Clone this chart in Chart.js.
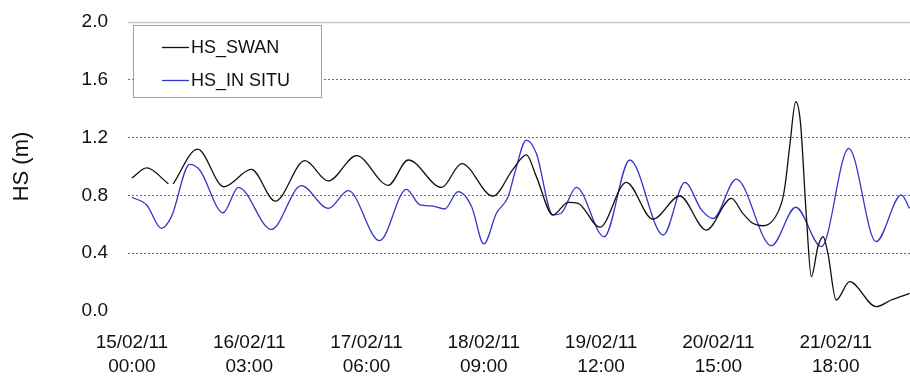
<!DOCTYPE html>
<html>
<head>
<meta charset="utf-8">
<script src="https://cdn.jsdelivr.net/npm/chart.js@4.4.1/dist/chart.umd.min.js"></script>
<style>
html,body{margin:0;padding:0;background:#ffffff;}
#wrap{width:910px;height:376px;position:relative;}
</style>
</head>
<body>
<div id="wrap"><canvas id="c" width="910" height="376"></canvas></div>
<script>
// ---- data (hours since 15/02/11 00:00) ----
const seriesNames = ["HS_SWAN", "HS_IN SITU"];

const swanHours = [0, 3.4, 8.4, 9, 9.5, 15.1, 21.2, 27.5, 33, 39.8, 45.2, 51.7, 59, 63.6, 71.3, 75.9, 83.1, 87.7, 90.8, 93.1, 96.9, 100.4, 102.7, 107.7, 113.8, 119.9, 126.1, 132.2, 138, 140.6, 142.9, 145.3, 149.5, 150.3, 151.4, 152.8, 153.9, 155.2, 156.4, 157.9, 159.1, 160.2, 162.1, 165.2, 171.3, 174.8, 179];
const swanValues = [0.92, 0.99, 0.88, null, 0.88, 1.12, 0.86, 0.98, 0.76, 1.04, 0.90, 1.075, 0.87, 1.045, 0.855, 1.02, 0.795, 0.98, 1.08, 0.93, 0.665, 0.752, 0.745, 0.58, 0.89, 0.635, 0.796, 0.56, 0.78, 0.676, 0.607, 0.59, 0.745, 0.86, 1.137, 1.448, 1.30, 0.676, 0.237, 0.445, 0.514, 0.40, 0.076, 0.203, 0.03, 0.076, 0.122];

const situHours = [0, 3.4, 6.8, 9.1, 13.3, 15.6, 21, 24.5, 32.1, 39, 45.2, 49.8, 57, 63.2, 66.3, 69, 72, 75.1, 78.2, 81, 83.9, 86.6, 88.1, 90.8, 93.1, 96.9, 98.8, 102.3, 108.7, 114.6, 122.3, 127.3, 131.1, 133.8, 139.1, 147.2, 152.8, 158.7, 165, 171.3, 177.1, 179];
const situValues = [0.787, 0.734, 0.572, 0.653, 1.015, 0.976, 0.68, 0.856, 0.565, 0.867, 0.71, 0.833, 0.487, 0.842, 0.734, 0.727, 0.706, 0.826, 0.722, 0.464, 0.676, 0.79, 0.953, 1.183, 1.09, 0.664, 0.676, 0.856, 0.514, 1.045, 0.526, 0.89, 0.70, 0.64, 0.913, 0.452, 0.718, 0.445, 1.126, 0.48, 0.803, 0.71];

const tickHours = [0, 27, 54, 81, 108, 135, 162];
const tickLabels = [["15/02/11","00:00"],["16/02/11","03:00"],["17/02/11","06:00"],["18/02/11","09:00"],["19/02/11","12:00"],["20/02/11","15:00"],["21/02/11","18:00"]];
const yTicks = [0, 0.4, 0.8, 1.2, 1.6, 2.0];
const yTitle = "HS (m)";

// ---- styles ----
const FONT = "'Liberation Sans', Arial, Helvetica, sans-serif";
const colors = ["#111111", "#3535c8"];

const toPoints = (hs, vs) => hs.map((h, i) => ({x: h, y: vs[i]}));

const topLinePlugin = {
  id: 'topLine',
  beforeDatasetsDraw(chart) {
    const c = chart.ctx, a = chart.chartArea, y = Math.round(chart.scales.y.getPixelForValue(2.0)) + 0.5;
    c.save();
    c.strokeStyle = '#c6c6c6';
    c.lineWidth = 1.6;
    c.beginPath(); c.moveTo(a.left, y); c.lineTo(a.right, y); c.stroke();
    c.restore();
  }
};

const boxLegendPlugin = {
  id: 'boxLegend',
  afterDraw(chart) {
    const c = chart.ctx;
    c.save();
    c.fillStyle = '#ffffff';
    c.fillRect(133.5, 25.5, 188, 72);
    c.strokeStyle = '#a0a0a0';
    c.lineWidth = 1;
    c.strokeRect(133.5, 25.5, 188, 72);
    chart.data.datasets.forEach((ds, i) => {
      const y = 47 + i * 33;
      c.strokeStyle = ds.borderColor;
      c.lineWidth = 1.3;
      c.beginPath(); c.moveTo(162, y + 0.5); c.lineTo(189, y + 0.5); c.stroke();
      c.fillStyle = '#111111';
      c.font = "18px " + FONT;
      c.textBaseline = 'middle';
      c.textAlign = 'left';
      c.fillText(ds.label, 191, y + 1);
    });
    c.restore();
  }
};

new Chart(document.getElementById('c'), {
  type: 'line',
  data: {
    datasets: [
      {label: seriesNames[0], data: toPoints(swanHours, swanValues), borderColor: colors[0], borderWidth: 1.3, pointRadius: 0, cubicInterpolationMode: 'monotone', fill: false, spanGaps: false},
      {label: seriesNames[1], data: toPoints(situHours, situValues), borderColor: colors[1], borderWidth: 1.3, pointRadius: 0, cubicInterpolationMode: 'monotone', fill: false}
    ]
  },
  options: {
    responsive: false,
    devicePixelRatio: 1,
    animation: false,
    layout: {padding: {top: 22, right: 0, bottom: 0, left: 0}},
    plugins: {legend: {display: false}, tooltip: {enabled: false}},
    scales: {
      x: {
        type: 'linear',
        min: -0.9,
        max: 179.1,
        afterBuildTicks: s => { s.ticks = tickHours.map(v => ({value: v})); },
        afterFit: s => { s.height = 65; },
        ticks: {
          autoSkip: false,
          maxRotation: 0,
          padding: 19,
          color: '#111111',
          font: {family: FONT, size: 19, lineHeight: 1.3},
          callback: v => tickLabels[tickHours.indexOf(v)]
        },
        grid: {display: false, drawTicks: false},
        border: {display: false}
      },
      y: {
        min: 0,
        max: 2.0,
        afterBuildTicks: s => { s.ticks = yTicks.map(v => ({value: v})); },
        afterFit: s => { s.width = 128; s.paddingTop = 10; s.paddingBottom = 10; },
        ticks: {
          padding: 20,
          color: '#111111',
          font: {family: FONT, size: 19},
          callback: v => Number(v).toFixed(1)
        },
        grid: {
          drawTicks: false,
          lineWidth: 1,
          color: ctx => (ctx.tick && (ctx.tick.value === 0 || ctx.tick.value === 2)) ? 'rgba(0,0,0,0)' : '#707070'
        },
        border: {display: false, dash: [2, 2]},
        title: {display: true, text: yTitle, color: '#111111', font: {family: FONT, size: 22}, padding: {top: 9, bottom: 0}}
      }
    }
  },
  plugins: [topLinePlugin, boxLegendPlugin]
});
</script>
</body>
</html>
